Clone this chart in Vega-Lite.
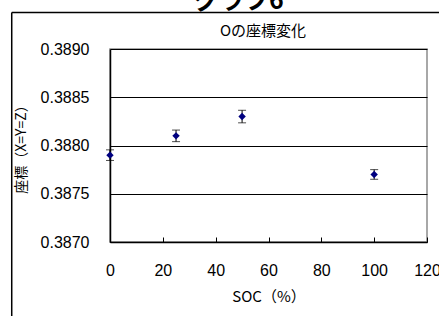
{
  "$schema": "https://vega.github.io/schema/vega-lite/v6.json",
  "autosize": {"type": "none"},
  "width": 317,
  "height": 193,
  "padding": {"left": 110, "top": 49, "right": 12, "bottom": 74},
  "background": "white",
  "config": {
    "view": {"stroke": "#8c8c8c", "strokeWidth": 1.5},
    "font": "Liberation Sans"
  },
  "datasets": {
    "points": [
      {"soc": 0, "coord": 0.38790, "err": 0.000055},
      {"soc": 25, "coord": 0.38810, "err": 0.00006},
      {"soc": 50, "coord": 0.38830, "err": 0.000065},
      {"soc": 100, "coord": 0.38770, "err": 0.00005}
    ],
    "frame": [{"part": "frame"}],
    "chartTitle": [{"label": "グラフ6"}],
    "plotTitle": [{"label": "Oの座標変化"}]
  },
  "layer": [
    {
      "data": {"name": "points"},
      "mark": {"type": "errorbar", "ticks": {"size": 8, "color": "black"}, "rule": {"color": "black"}},
      "encoding": {
        "x": {"field": "soc", "type": "quantitative", "title": "SOC（%）"},
        "y": {"field": "coord", "type": "quantitative", "title": "座標（X=Y=Z）"},
        "yError": {"field": "err"}
      }
    },
    {
      "data": {"name": "points"},
      "mark": {"type": "point", "shape": "diamond", "filled": true, "color": "#000080", "size": 55, "opacity": 1},
      "encoding": {
        "x": {
          "field": "soc", "type": "quantitative",
          "title": "SOC（%）",
          "scale": {"domain": [0, 120], "nice": false, "zero": false},
          "axis": {
            "titleFont": "Noto Sans CJK JP", "titleFontSize": 15, "titleFontWeight": 400, "titleColor": "black",
            "titlePadding": 11,
            "values": [0, 20, 40, 60, 80, 100, 120],
            "grid": false,
            "domainColor": "black", "domainWidth": 1.5,
            "tickColor": "black", "tickSize": -5, "tickWidth": 1,
            "labelFontSize": 16, "labelColor": "black", "labelPadding": 25,
            "labelFlush": false
          }
        },
        "y": {
          "field": "coord", "type": "quantitative",
          "title": "座標（X=Y=Z）",
          "scale": {"domain": [0.387, 0.389], "nice": false, "zero": false},
          "axis": {
            "titleFont": "Noto Sans CJK JP", "titleFontSize": 14, "titleFontWeight": 400, "titleColor": "black",
            "titlePadding": 12,
            "values": [0.387, 0.3875, 0.388, 0.3885, 0.389],
            "format": ".4f",
            "grid": true, "gridColor": "black", "gridWidth": 1,
            "domainColor": "black", "domainWidth": 1.5,
            "ticks": false,
            "labelFontSize": 16, "labelColor": "black", "labelPadding": 21,
            "labelFlush": false
          }
        }
      }
    },
    {
      "data": {"name": "frame"},
      "mark": {"type": "rule", "color": "black", "strokeWidth": 1.5, "clip": false},
      "encoding": {
        "x": {"datum": -37.2, "type": "quantitative"},
        "y": {"datum": 0.389378, "type": "quantitative"},
        "y2": {"datum": 0.3860}
      }
    },
    {
      "data": {"name": "frame"},
      "mark": {"type": "rule", "color": "black", "strokeWidth": 1.5, "clip": false},
      "encoding": {
        "x": {"datum": -37.2, "type": "quantitative"},
        "x2": {"datum": 130},
        "y": {"datum": 0.389378, "type": "quantitative"}
      }
    },
    {
      "data": {"name": "chartTitle"},
      "mark": {"type": "text", "font": "Noto Sans CJK JP", "fontSize": 25, "fontWeight": "bold", "color": "black", "align": "center", "baseline": "alphabetic", "clip": false},
      "encoding": {
        "text": {"field": "label"},
        "x": {"datum": 48.8, "type": "quantitative"},
        "y": {"datum": 0.389414, "type": "quantitative"}
      }
    },
    {
      "data": {"name": "plotTitle"},
      "mark": {"type": "text", "font": "Noto Sans CJK JP", "fontSize": 15, "fontWeight": 400, "color": "black", "align": "center", "baseline": "middle", "clip": false},
      "encoding": {
        "text": {"field": "label"},
        "x": {"datum": 57.9, "type": "quantitative"},
        "y": {"datum": 0.389187, "type": "quantitative"}
      }
    }
  ]
}
